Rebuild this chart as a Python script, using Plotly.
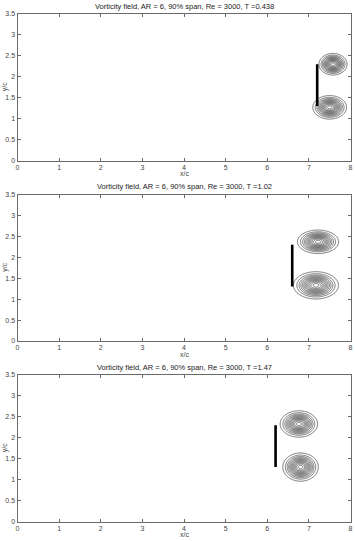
import numpy as np
import plotly.graph_objects as go

# ---- data ----
T_LABELS = ["0.438", "1.02", "1.47"]
WING_X = [7.2, 6.6, 6.2]          # wing (thick line) x position per panel
WING_Y = [1.3, 2.3]               # wing span extent in y/c

# vortex parameters per panel: centre and spread
UPPER_CX = [7.58, 7.22, 6.76]
UPPER_CY = [2.30, 2.37, 2.33]
UPPER_SX = [0.15, 0.22, 0.20]
UPPER_SY = [0.115, 0.125, 0.14]
LOWER_CX = [7.50, 7.17, 6.80]
LOWER_CY = [1.27, 1.33, 1.30]
LOWER_SX = [0.18, 0.24, 0.19]
LOWER_SY = [0.125, 0.145, 0.15]

X_TICKS = [0, 1, 2, 3, 4, 5, 6, 7, 8]
Y_TICKS = [0, 0.5, 1, 1.5, 2, 2.5, 3, 3.5]
Y_TICKTEXT = ["0", "0.5", "1", "1.5", "2", "2.5", "3", "3.5"]

W, H = 355, 541
X_DOM = [17.5 / W, 350.5 / W]
PANEL_PX = [(14, 160.5), (194.5, 341), (375, 521.5)]

FONT = "Liberation Sans, Arial, sans-serif"
AXC = "#6a6a6a"

fig = go.Figure()

gx = np.arange(5.5, 8.2, 0.01)
gy = np.arange(0.4, 3.2, 0.01)
GX, GY = np.meshgrid(gx, gy)

for i in range(3):
    xa = "x" if i == 0 else f"x{i+1}"
    ya = "y" if i == 0 else f"y{i+1}"
    z = (np.exp(-((GX - UPPER_CX[i]) ** 2) / (2 * UPPER_SX[i] ** 2)
                - ((GY - UPPER_CY[i]) ** 2) / (2 * UPPER_SY[i] ** 2))
         + np.exp(-((GX - LOWER_CX[i]) ** 2) / (2 * LOWER_SX[i] ** 2)
                  - ((GY - LOWER_CY[i]) ** 2) / (2 * LOWER_SY[i] ** 2)))
    fig.add_trace(go.Contour(
        x=gx, y=gy, z=z, xaxis=xa, yaxis=ya,
        contours=dict(coloring="lines", start=0.08, end=0.96, size=0.08),
        colorscale=[[0, "#3a3a3a"], [1, "#3a3a3a"]],
        line=dict(width=0.7), showscale=False, hoverinfo="skip"))
    fig.add_trace(go.Scatter(
        x=[WING_X[i], WING_X[i]], y=WING_Y, mode="lines",
        line=dict(color="black", width=2.6), xaxis=xa, yaxis=ya,
        showlegend=False, hoverinfo="skip"))

layout = dict(
    width=W, height=H, margin=dict(l=0, r=0, t=0, b=0),
    paper_bgcolor="white", plot_bgcolor="white", showlegend=False,
    font=dict(family=FONT, size=7, color="#444"),
)
annotations = []
for i, (top, bot) in enumerate(PANEL_PX):
    sx = "" if i == 0 else str(i + 1)
    ydom = [1 - bot / H, 1 - top / H]
    ax_common = dict(showline=True, linecolor=AXC, linewidth=1, mirror="ticks",
                     ticks="inside", ticklen=3, tickcolor=AXC, showgrid=False,
                     zeroline=False, tickfont=dict(size=7, color="#444", family=FONT),
                     automargin=False)
    layout["xaxis" + sx] = dict(ax_common, domain=X_DOM, range=[0, 8],
                                tickvals=X_TICKS, anchor="y" + sx, ticklabelstandoff=0)
    layout["yaxis" + sx] = dict(ax_common, domain=ydom, range=[0, 3.5],
                                tickvals=Y_TICKS, ticktext=Y_TICKTEXT,
                                anchor="x" + sx, ticklabelstandoff=0)
    cx = (X_DOM[0] + X_DOM[1]) / 2
    annotations.append(dict(
        text=f"Vorticity field, AR = 6, 90% span, Re = 3000, T ={T_LABELS[i]}",
        x=cx, y=1 - (top - 8) / H, xref="paper", yref="paper",
        showarrow=False, font=dict(size=7.5, color="#222", family=FONT),
        xanchor="center", yanchor="middle"))
    annotations.append(dict(
        text="x/c", x=cx, y=1 - (bot + 13) / H, xref="paper", yref="paper",
        showarrow=False, font=dict(size=7, color="#444", family=FONT),
        xanchor="center", yanchor="middle"))
    annotations.append(dict(
        text="y/c", x=5 / W, y=1 - (top + bot) / 2 / H, xref="paper", yref="paper",
        showarrow=False, textangle=-90, font=dict(size=7, color="#444", family=FONT),
        xanchor="center", yanchor="middle"))
layout["annotations"] = annotations
fig.update_layout(**layout)

fig.write_html("out.html")
